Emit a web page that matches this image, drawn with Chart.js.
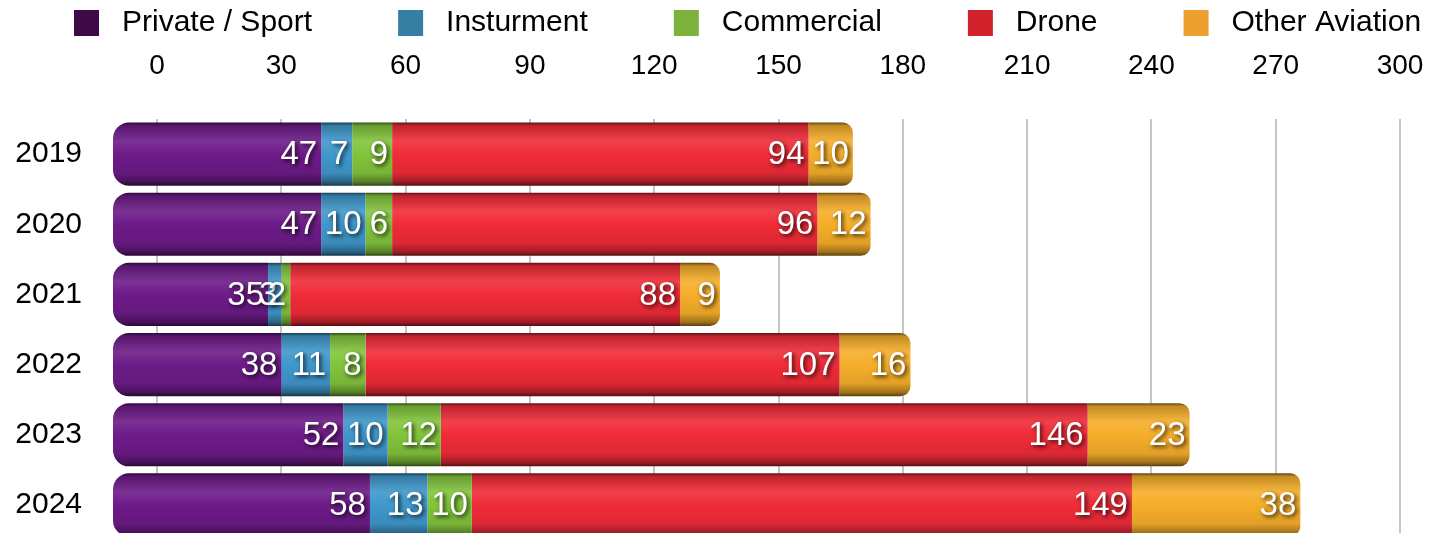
<!DOCTYPE html>
<html>
<head>
<meta charset="utf-8">
<script src="https://cdn.jsdelivr.net/npm/chart.js@4.4.1/dist/chart.umd.min.js"></script>
<style>
  html, body { margin: 0; padding: 0; background: #fff; overflow: hidden; }
  #wrap { width: 1439px; height: 540px; }
</style>
</head>
<body>
<div id="wrap"><canvas id="chart"></canvas></div>
<script>
// Values
const years = ['2019', '2020', '2021', '2022', '2023', '2024'];
const seriesNames = ['Private / Sport', 'Insturment', 'Commercial', 'Drone', 'Other Aviation'];
const privateSport = [47, 47, 35, 38, 52, 58];
const instrument = [7, 10, 3, 11, 10, 13];
const commercial = [9, 6, 2, 8, 12, 10];
const drone = [94, 96, 88, 107, 146, 149];
const otherAviation = [10, 12, 9, 16, 23, 38];
const xTicks = [0, 30, 60, 90, 120, 150, 180, 210, 240, 270, 300];

const legendColors = ['#3d0a47', '#357fa3', '#7bb23b', '#d1212b', '#eca030'];
const barColors = ['#6d1b88', '#3f98cc', '#82c43c', '#f02c38', '#f6ae2a'];

const FONT = '"Liberation Sans", Arial, Helvetica, sans-serif';
const BAR_PCT = 0.9;
const LEGEND_BOX_W = 115;

// blend a hex colour toward black or white
function mix(hex, target, t) {
  const n = parseInt(hex.slice(1), 16);
  const r = n >> 16, g = (n >> 8) & 255, b = n & 255;
  const tv = target === 'white' ? 255 : 0;
  return `rgb(${Math.round(r + (tv - r) * t)}, ${Math.round(g + (tv - g) * t)}, ${Math.round(b + (tv - b) * t)})`;
}

// vertical gradient so each bar looks like a tube
function cylinder(color) {
  return (ctx) => {
    const chart = ctx.chart;
    const yScale = chart.scales.y;
    if (!chart.chartArea || !yScale || ctx.dataIndex === undefined) return color;
    const yc = yScale.getPixelForValue(ctx.dataIndex);
    const half = yScale.height / years.length * BAR_PCT / 2;
    const g = chart.ctx.createLinearGradient(0, yc - half, 0, yc + half);
    g.addColorStop(0, mix(color, 'black', 0.6));
    g.addColorStop(0.05, mix(color, 'black', 0.2));
    g.addColorStop(0.3, mix(color, 'white', 0.1));
    g.addColorStop(0.5, color);
    g.addColorStop(0.8, mix(color, 'black', 0.08));
    g.addColorStop(0.94, mix(color, 'black', 0.35));
    g.addColorStop(1, mix(color, 'black', 0.65));
    return g;
  };
}

// legend swatch: square sits at the right of a wider transparent box
function legendSwatch(color) {
  const c = document.createElement('canvas');
  c.width = LEGEND_BOX_W;
  c.height = 26;
  const g = c.getContext('2d');
  g.fillStyle = color;
  g.fillRect(LEGEND_BOX_W - 33, 0, 25, 26);
  return c;
}
const swatches = legendColors.map(legendSwatch);

const seriesValues = [privateSport, instrument, commercial, drone, otherAviation];
const lastIdx = seriesValues.length - 1;

const datasets = seriesValues.map((values, i) => ({
  label: seriesNames[i],
  data: values,
  backgroundColor: cylinder(barColors[i]),
  borderSkipped: false,
  borderWidth: 0,
  borderRadius: i === 0 ? { topLeft: 16, bottomLeft: 16, topRight: 0, bottomRight: 0 }
    : i === lastIdx ? { topLeft: 0, bottomLeft: 0, topRight: 10, bottomRight: 10 } : 0,
  barPercentage: BAR_PCT,
  categoryPercentage: 1,
  xAxisID: 'x',
  yAxisID: 'y'
}));

// white value at the end of each segment
const segmentLabels = {
  id: 'segmentLabels',
  afterDatasetsDraw(chart) {
    const { ctx } = chart;
    ctx.save();
    ctx.font = `33px ${FONT}`;
    ctx.textAlign = 'right';
    ctx.textBaseline = 'middle';
    ctx.fillStyle = '#fff';
    ctx.shadowColor = 'rgba(0, 0, 0, 0.8)';
    ctx.shadowBlur = 4;
    ctx.shadowOffsetX = 2;
    ctx.shadowOffsetY = 2;
    chart.data.datasets.forEach((ds, di) => {
      chart.getDatasetMeta(di).data.forEach((bar, i) => {
        ctx.fillText(String(ds.data[i]), bar.x - 4, bar.y + 1);
      });
    });
    ctx.restore();
  }
};

new Chart(document.getElementById('chart'), {
  type: 'bar',
  data: { labels: years, datasets: datasets },
  plugins: [segmentLabels],
  options: {
    indexAxis: 'y',
    responsive: true,
    maintainAspectRatio: false,
    animation: false,
    layout: { padding: { top: 4, left: -12, right: 0, bottom: 0 } },
    scales: {
      x: {
        display: false,
        stacked: true,
        min: 0,
        max: 290.5
      },
      x2: {
        type: 'linear',
        position: 'top',
        min: -10.62,
        max: 300,
        afterBuildTicks: (scale) => {
          scale.ticks = xTicks.map(v => ({ value: v }));
        },
        afterFit: (scale) => {
          scale.height = 71;
          scale.paddingLeft = 0;
          scale.paddingRight = 39;
        },
        grid: { color: '#c6c6c6', lineWidth: 2, drawTicks: false },
        border: { display: false },
        ticks: {
          color: '#000',
          padding: 36,
          maxRotation: 0,
          autoSkip: false,
          font: { family: FONT, size: 28 },
          callback: (v) => String(v)
        }
      },
      y: {
        stacked: true,
        grid: { display: false, drawTicks: false },
        border: { display: false },
        afterFit: (scale) => {
          scale.width = 125;
          scale.paddingTop = 0;
          scale.paddingBottom = 0;
        },
        ticks: {
          color: '#000',
          padding: 31,
          font: { family: FONT, size: 30 }
        }
      }
    },
    plugins: {
      tooltip: { enabled: false },
      legend: {
        position: 'top',
        align: 'start',
        labels: {
          usePointStyle: true,
          pointStyleWidth: LEGEND_BOX_W,
          padding: 4,
          color: '#000',
          font: { family: FONT, size: 30 },
          generateLabels: (chart) => Chart.defaults.plugins.legend.labels.generateLabels(chart)
            .map((item, i) => ({ ...item, pointStyle: swatches[i] }))
        }
      }
    }
  }
});
</script>
</body>
</html>
